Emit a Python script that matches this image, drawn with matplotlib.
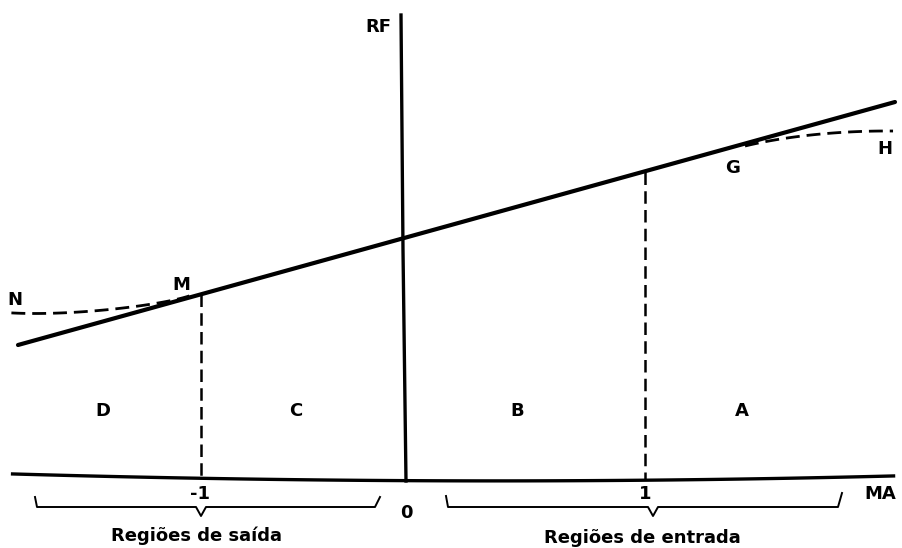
"""
Diagrama RF x MA: recta de equilíbrio com as regiões de entrada e saída.
"""
import matplotlib
matplotlib.use("Agg")
import matplotlib.pyplot as plt
import numpy as np

# ── Geometry of the sketch (drawing units = pixels of the canvas) ────────────

main_line_x = [18, 895]
main_line_y = [345, 102]

curve_n_x = [12, 50, 95, 135, 165, 190]
curve_n_y = [313, 313, 311, 307, 301, 296]

curve_h_x = [745, 775, 810, 850, 893]
curve_h_y = [146, 140, 135, 132, 131]

base_x = [12, 200, 406, 645, 893]
base_y = [474, 478, 481, 480, 476]

rf_axis_x = [401, 403, 406]
rf_axis_y = [15, 250, 481]

drop_m_x = [201, 201]
drop_m_y = [294, 478]
drop_g_x = [645, 645]
drop_g_y = [172, 480]

brace_out_x = [35, 37, 196, 201, 206, 375, 380]
brace_out_y = [497, 507, 507, 516, 507, 507, 497]
brace_in_x = [446, 448, 648, 653, 658, 838, 842]
brace_in_y = [496, 507, 507, 516, 507, 507, 493]

point_labels = ["RF", "N", "M", "G", "H"]
point_x = [378, 15, 181, 733, 885]
point_y = [27, 300, 285, 168, 149]

region_labels = ["D", "C", "B", "A"]
region_x = [103, 296, 517, 742]
region_y = [411, 411, 411, 411]

tick_labels = ["-1", "0", "1", "MA"]
tick_x = [200, 406, 645, 880]
tick_y = [494, 513, 494, 494]

group_labels = ["Regiões de saída", "Regiões de entrada"]
group_x = [197, 642]
group_y = [536, 538]


def smooth(xs, ys, n=60):
    t = np.linspace(0, 1, len(xs))
    tt = np.linspace(0, 1, n)
    cx = np.polyfit(t, xs, min(3, len(xs) - 1))
    cy = np.polyfit(t, ys, min(3, len(ys) - 1))
    return np.polyval(cx, tt), np.polyval(cy, tt)


fig = plt.figure(figsize=(9.03, 5.48), dpi=100)
ax = fig.add_axes([0, 0, 1, 1])
ax.set_xlim(0, 903)
ax.set_ylim(548, 0)
ax.axis("off")

ink = "black"
dash = (0, (5, 2.5))

ax.plot(main_line_x, main_line_y, color=ink, lw=3.0, solid_capstyle="round")
ax.plot(*smooth(curve_n_x, curve_n_y), color=ink, lw=2.0, ls=dash)
ax.plot(*smooth(curve_h_x, curve_h_y), color=ink, lw=2.0, ls=dash)
ax.plot(*smooth(base_x, base_y), color=ink, lw=2.4)
ax.plot(rf_axis_x, rf_axis_y, color=ink, lw=2.4)
ax.plot(drop_m_x, drop_m_y, color=ink, lw=1.8, ls=dash)
ax.plot(drop_g_x, drop_g_y, color=ink, lw=1.8, ls=dash)
ax.plot(brace_out_x, brace_out_y, color=ink, lw=1.4)
ax.plot(brace_in_x, brace_in_y, color=ink, lw=1.4)

font = dict(family="DejaVu Sans", weight="bold", color=ink, ha="center", va="center")
for lab, x, y in zip(point_labels, point_x, point_y):
    ax.text(x, y, lab, fontsize=13, **font)
for lab, x, y in zip(region_labels, region_x, region_y):
    ax.text(x, y, lab, fontsize=13, **font)
for lab, x, y in zip(tick_labels, tick_x, tick_y):
    ax.text(x, y, lab, fontsize=13, **font)
for lab, x, y in zip(group_labels, group_x, group_y):
    ax.text(x, y, lab, fontsize=13, **font)

fig.savefig("out.png", dpi=100)
